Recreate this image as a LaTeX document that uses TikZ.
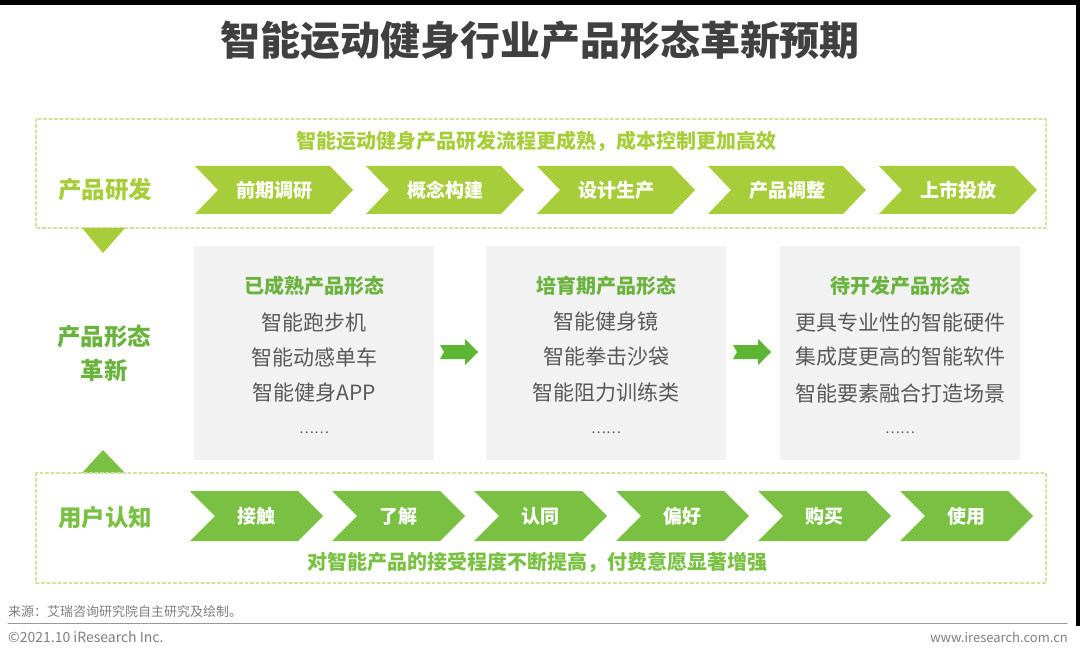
\documentclass[tikz,border=0pt]{standalone}
\usepackage{fontspec}
\setmainfont{Noto Sans CJK SC}
\usepackage{tikz}
\usetikzlibrary{positioning}

\definecolor{lime}{HTML}{A8CD3A}
\definecolor{leaf}{HTML}{7AC143}
\definecolor{grass}{HTML}{5DB533}
\definecolor{headgreen}{HTML}{6BB33F}
\definecolor{dashlime}{HTML}{CFE3A0}
\definecolor{boxgray}{HTML}{F2F2F3}
\definecolor{txtgray}{HTML}{595959}
\definecolor{titlegray}{HTML}{404040}
\definecolor{footgray}{HTML}{7F7F7F}

\begin{document}
\begin{tikzpicture}[line cap=round,line join=round,x=1pt,y=-1pt,
  every node/.style={inner sep=0pt},
  titletext/.style={text=titlegray,font=\fontsize{40}{40}\selectfont\bfseries},
  notetext/.style={font=\fontsize{20}{20}\selectfont\bfseries},
  rowlabel/.style={font=\fontsize{23.5}{34}\selectfont\bfseries,align=center},
  chevtext/.style={text=white,font=\fontsize{19}{19}\selectfont\bfseries},
  dashbox/.style={draw=dashlime,line width=1.2pt,dash pattern=on 3pt off 2.5pt},
  formbox/.style={fill=boxgray,minimum width=240pt,minimum height=214pt},
  formhead/.style={text=headgreen,font=\fontsize{20}{20}\selectfont\bfseries},
  formitem/.style={text=txtgray,font=\fontsize{21}{21}\selectfont},
  formdots/.style={text=txtgray,font=\fontsize{14}{14}\selectfont},
  foottext/.style={text=footgray,font=\fontsize{13}{13}\selectfont}]
\useasboundingbox (0,0) rectangle (1080,658);
\fill[white] (0,0) rectangle (1080,658);
\fill[black] (0,0) rectangle (1080,5);
\fill[black] (1076,0) rectangle (1080,626);

% title
\node[titletext] (title) at (540,40) {智能运动健身行业产品形态革新预期};

% product development row
\draw[dashbox] (36,119) rectangle (1046,228);
\node[notetext,text=lime] (rdnote) at (536,141) {智能运动健身产品研发流程更成熟，成本控制更加高效};
\node[rowlabel,text=lime] (rdlabel) at (105,190) {产品研发};
\foreach \x/\t [count=\i] in {195/前期调研,366/概念构建,537/设计生产,708/产品调整,879/上市投放}{
  \fill[lime] (\x,166) -- ++(135,0) -- ++(23,24) -- ++(-23,24) -- ++(-135,0) -- ++(23,-24) -- cycle;
  \node[chevtext] (rd\i) at (\x+79,190) {\t};
}
\fill[lime] (82,228) -- (125,228) -- (103,253) -- cycle;

% product forms
\node[rowlabel,text=headgreen] (formlabel) at (104,353) {产品形态\\革新};
\node[formbox] (mature) at (314,353) {};
\node[formbox] (growing) at (606,353) {};
\node[formbox] (future) at (900,353) {};

\node[formhead] (matureh) at (314,286) {已成熟产品形态};
\node[formitem] at (314,322) {智能跑步机};
\node[formitem] at (314,357) {智能动感单车};
\node[formitem] at (314,393) {智能健身APP};
\node[formdots] at (314,433) {……};

\node[formhead] (growingh) at (606,286) {培育期产品形态};
\node[formitem] at (606,322) {智能健身镜};
\node[formitem] at (606,357) {智能拳击沙袋};
\node[formitem] at (606,393) {智能阻力训练类};
\node[formdots] at (606,433) {……};

\node[formhead] (futureh) at (900,286) {待开发产品形态};
\node[formitem] at (900,322) {更具专业性的智能硬件};
\node[formitem] at (900,357) {集成度更高的智能软件};
\node[formitem] at (900,393) {智能要素融合打造场景};
\node[formdots] at (900,433) {……};

\foreach \s in {0,293}{
  \fill[grass,xshift=\s] (440,345) -- (465,345) -- (465,339) -- (478,352) -- (465,365)
    -- (465,359) -- (440,359) -- (444,352) -- cycle;
}

% user cognition row
\fill[leaf] (82,473) -- (125,473) -- (103,450) -- cycle;
\draw[dashbox] (36,473) rectangle (1046,583);
\node[rowlabel,text=leaf] (uclabel) at (105,518) {用户认知};
\foreach \x/\t [count=\i] in {190/接触,332/了解,474/认同,616/偏好,758/购买,900/使用}{
  \fill[leaf] (\x,491) -- ++(108,0) -- ++(25,25) -- ++(-25,25) -- ++(-108,0) -- ++(25,-25) -- cycle;
  \node[chevtext] (uc\i) at (\x+66,516) {\t};
}
\node[notetext,text=leaf] (ucnote) at (537,562) {对智能产品的接受程度不断提高，付费意愿显著增强};

% footer
\node[foottext,anchor=west] (source) at (8,612) {来源：艾瑞咨询研究院自主研究及绘制。};
\draw[footgray!80,line width=1pt] (8,623) -- (1067,623);
\node[foottext,anchor=west,font=\fontsize{14}{14}\selectfont] (copy) at (8,637) {©2021.10 iResearch Inc.};
\node[foottext,anchor=east] (web) at (1068,637) {www.iresearch.com.cn};
\end{tikzpicture}
\end{document}
